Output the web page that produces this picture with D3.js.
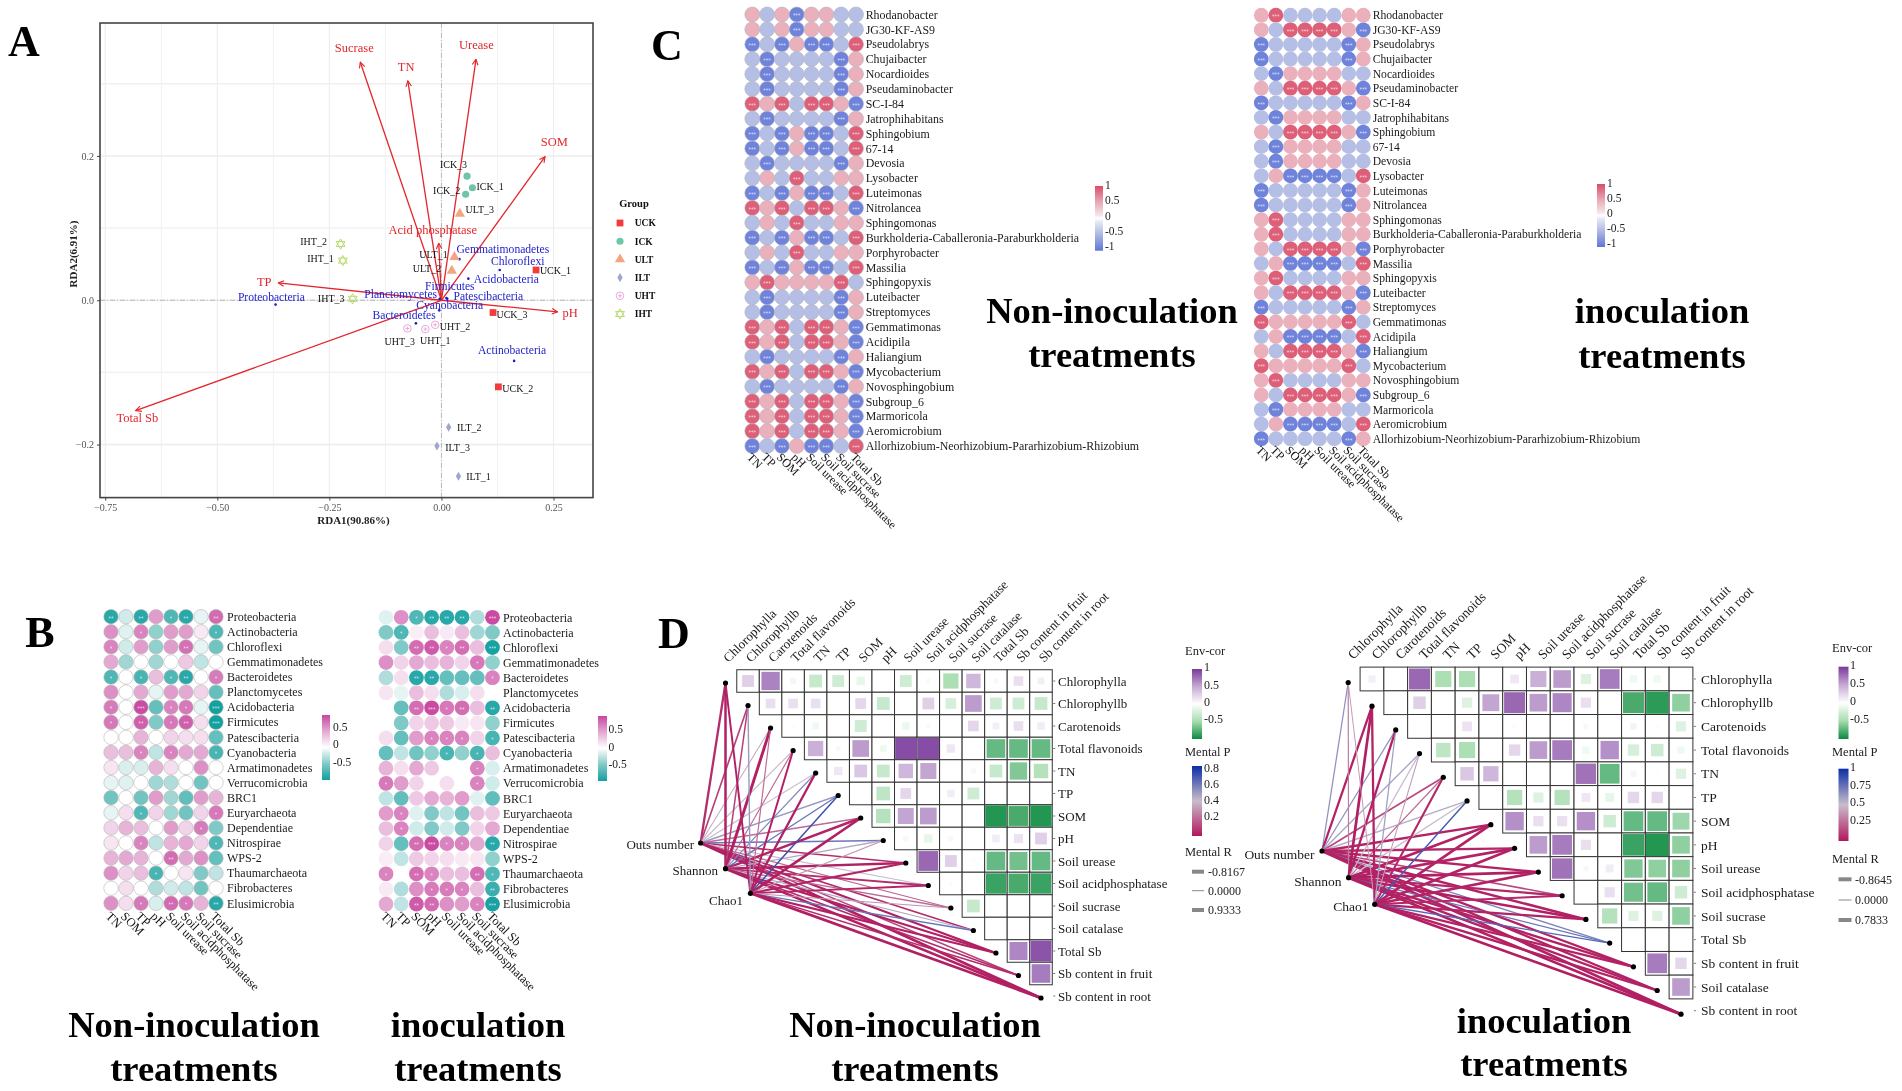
<!DOCTYPE html>
<html>
<head>
<meta charset="utf-8">
<script src="https://cdn.jsdelivr.net/npm/d3@7"></script>
<style>html,body{margin:0;padding:0;background:#fff}svg{display:block;filter:blur(.4px)}text{font-family:'Liberation Serif',serif}</style>
</head>
<body>
<script>
// ---------- Panel A data ----------
const sampleNames = ["UCK_1","UCK_2","UCK_3","ICK_1","ICK_2","ICK_3","ULT_1","ULT_2","ULT_3","ILT_1","ILT_2","ILT_3","UHT_1","UHT_2","UHT_3","IHT_1","IHT_2","IHT_3"];
const sampleRda1 = [.211,.127,.115,.069,.054,.057,.029,.023,.041,.038,.016,-.010,-.036,-.014,-.076,-.220,-.225,-.198];
const sampleRda2 = [.042,-.120,-.017,.156,.147,.172,.060,.041,.120,-.244,-.176,-.202,-.040,-.034,-.039,.055,.078,.002];
const groups = ["UCK","ICK","ULT","ILT","UHT","IHT"];
const envNames = ["Sucrase","TN","Urease","SOM","Acid phosphatase","TP","pH","Total Sb"];
const envRda1 = [-.181,-.075,.077,.231,-.006,-.364,.259,-.682];
const envRda2 = [.330,.304,.334,.199,.079,.024,-.016,-.153];
const phylaNames = ["Proteobacteria","Actinobacteria","Chloroflexi","Gemmatimonadetes","Bacteroidetes","Planctomycetes","Acidobacteria","Firmicutes","Patescibacteria","Cyanobacteria"];
const phylaRda1 = [-.370,.162,.130,.040,-.057,-.004,.060,.011,.013,-.005];
const phylaRda2 = [-.006,-.084,.042,.057,-.032,.002,.030,.003,.002,-.014];

// ---------- Panel B data ----------
const phyla = ["Proteobacteria","Actinobacteria","Chloroflexi","Gemmatimonadetes","Bacteroidetes","Planctomycetes","Acidobacteria","Firmicutes","Patescibacteria","Cyanobacteria","Armatimonadetes","Verrucomicrobia","BRC1","Euryarchaeota","Dependentiae","Nitrospirae","WPS-2","Thaumarchaeota","Fibrobacteres","Elusimicrobia"];
const bColsLeft = ["TN","SOM","TP","pH","Soil urease","Soil acidphosphatase","Soil sucrase","Total Sb"];
const bColsRight = ["TN","TP","SOM","pH","Soil urease","Soil acidphosphatase","Soil sucrase","Total Sb"];
const bLeftValues = [
[-.72,-.15,-.72,.45,-.58,-.72,-.08,.65],
[.5,-.1,.55,-.35,.45,.45,.1,-.58],
[.55,-.15,.45,-.35,.45,.63,-.08,-.45],
[.4,-.3,0,-.3,0,.25,-.2,0],
[-.58,0,-.6,.3,-.58,-.72,0,.58],
[.5,0,.4,-.08,.45,.4,.2,-.5],
[.58,0,.78,-.5,.55,.6,-.08,-.8],
[.6,0,.7,-.4,.6,.7,.15,-.8],
[0,0,.35,0,.2,.15,.15,-.5],
[.3,.3,.55,-.2,.55,.4,.4,-.6],
[.12,-.12,-.12,.35,.15,0,.5,0],
[-.08,-.1,0,-.3,-.25,0,-.45,0],
[-.45,0,-.45,.45,-.3,-.51,.45,.35],
[-.08,.15,-.58,.2,-.3,-.45,.2,.6],
[.2,.35,.3,0,.45,.2,.58,-.4],
[.12,0,.55,-.2,.35,.4,.2,-.58],
[.35,.4,.35,0,.64,.4,.5,-.5],
[.5,.2,.3,-.6,0,.12,-.4,-.2],
[0,.15,0,-.25,-.15,-.2,-.45,0],
[.5,.15,.6,-.12,.66,.6,.35,-.72]];
const bRightValues = [
[-.1,.5,-.58,-.72,-.72,-.72,-.25,.78],
[-.4,-.58,.08,.3,.1,.3,-.3,-.4],
[.15,-.4,.64,.72,.55,.64,.3,-.78],
[.5,.2,.4,.3,.35,.2,.6,-.35],
[-.25,.15,-.72,-.72,-.5,-.5,-.5,.55],
[.12,-.08,.3,.15,-.25,-.12,.15,0],
[0,-.5,.64,.78,.6,.64,.3,-.72],
[0,-.4,.2,.25,.25,.1,.12,-.35],
[.15,-.5,.45,.55,.55,.55,.2,-.6],
[-.5,-.2,-.45,-.35,-.6,-.35,-.6,.3],
[.35,.15,.4,.25,0,0,.55,-.12],
[.6,.45,.2,0,.15,0,.55,-.15],
[-.2,-.51,.25,.4,.35,.45,-.1,-.51],
[.45,.55,-.1,-.4,-.2,-.45,.3,.25],
[.3,.55,-.15,-.4,-.15,-.4,.2,.4],
[.2,-.5,.64,.78,.55,.55,.4,-.72],
[.08,-.2,.25,.2,.15,.1,.12,-.35],
[.55,0,.64,.55,.3,.3,.64,-.58],
[.1,-.25,.5,.58,.58,.55,.3,-.65],
[.4,-.2,.72,.65,.5,.45,.55,-.78]];

// ---------- Panel C data ----------
const genera = ["Rhodanobacter","JG30-KF-AS9","Pseudolabrys","Chujaibacter","Nocardioides","Pseudaminobacter","SC-I-84","Jatrophihabitans","Sphingobium","67-14","Devosia","Lysobacter","Luteimonas","Nitrolancea","Sphingomonas","Burkholderia-Caballeronia-Paraburkholderia","Porphyrobacter","Massilia","Sphingopyxis","Luteibacter","Streptomyces","Gemmatimonas","Acidipila","Haliangium","Mycobacterium","Novosphingobium","Subgroup_6","Marmoricola","Aeromicrobium","Allorhizobium-Neorhizobium-Pararhizobium-Rhizobium"];
const cCols = ["TN","TP","SOM","pH","Soil urease","Soil acidphosphatase","Soil sucrase","Total Sb"];
const cLevels = {R:.9,r:.45,b:-.45,B:-.9};
const cLeftRows = ["rbrBrrbb","rbrBrrbb","BbBrBBbR","bBbbbbBr","bBbbbbBr","bBbbbbBr","RrRbRRrB","bBbbbbBr","BbBrBBbR","BbBrBBbR","bBbbbbBr","brbRbbrr","BbBrBBbR","RrRbRRrB","brbRbbrr","BbBrBBbR","brbRbbrr","BbBrBBbR","rRrrrrRb","bBbbbbBr","bBbbbbBr","RrRbRRrB","RrRbRRrB","bBbbbbBr","RrRbRRrB","bBbbbbBr","RrRbRRrB","RrRbRRrB","RrRbRRrB","BbBrBBbR"];
const cRightRows = ["rRbbbbrr","rbRRRRrB","BbbbbbBr","BbbbbbBr","bBrrrrbb","rbRRRRrB","BbbbbbBr","bBrrrrbb","rbRRRRrB","bBrrrrbb","bBrrrrbb","brBBBBbR","BbbbbbBr","BbbbbbBr","rRbbbbrr","rRbbbbrr","rbRRRRrB","brBBBBbR","rRbbbbrr","rbRRRRrB","BbbbbbBr","RrrrrrRb","brBBBBbR","rbRRRRrB","RrrrrrRb","rRbbbbrr","rbRRRRrB","bBrrrrbb","brBBBBbR","BbbbbbBr"];

// ---------- Panel D data ----------
const dCols = ["Chlorophylla","Chlorophyllb","Carotenoids","Total flavonoids","TN","TP","SOM","pH","Soil urease","Soil acidphosphatase","Soil sucrase","Soil catalase","Total Sb","Sb content in fruit","Sb content in root"];
const dRowsRight = ["Chlorophylla","Chlorophyllb","Carotenoids","Total flavonoids","TN","TP","SOM","pH","Soil urease","Soil acidphosphatase","Soil sucrase","Total Sb","Sb content in fruit","Soil catalase","Sb content in root"];
const dLeftCor = [
[.3,.72,-.08,-.35,-.3,-.15,0,-.3,-.05,-.5,.45,.05,.2,.1],
[.2,.2,.2,0,.25,-.35,-.02,.3,-.25,.6,-.3,-.3,-.35],
[-.03,-.1,-.01,-.3,-.005,-.12,-.05,-.02,.25,.1,.2,.12],
[.5,.05,.6,-.1,.98,.98,.15,0,-.75,-.75,-.75],
[.15,.35,-.35,.45,.55,0,.05,-.35,-.65,-.45],
[.01,-.4,.25,0,.12,-.3,0,0,-.02],
[-.45,.55,.6,0,0,-.98,-.85,-.98],
[-.07,-.15,.05,0,.12,.18,.3],
[.85,.3,-.03,-.75,-.7,-.75],
[.03,.005,-.9,-.85,-.9],
[-.35,0,-.01,-.005],
[0,0,0],
[.7,.95],
[.75]];
const dRightCor = [
[.1,0,.85,-.5,-.5,-.01,.15,.5,.6,-.2,.75,-.1,-.1,-.005],
[-.005,.3,-.01,-.2,.55,.85,.6,.7,.2,0,-.85,-.95,-.6],
[.005,0,.18,-.02,-.03,0,-.01,.05,-.01,.08,.02,-.2],
[-.4,-.5,0,.25,.6,.75,-.1,.65,-.25,-.3,-.1],
[.35,.45,0,0,-.02,.8,-.75,-.08,-.02,-.2],
[-.005,-.45,-.2,-.45,.15,-.15,.25,.25,0],
[.65,.2,.2,.65,-.3,-.75,-.75,-.55],
[.6,.75,.2,0,-.9,-.98,-.6],
[.8,.05,.12,-.65,-.6,-.6],
[0,.2,-.7,-.75,-.3],
[-.45,-.2,-.2,-.6],
[-.005,0,0],
[.75,.25],
[.6]];
const mantelEnv = ["Outs number","Shannon","Chao1"];
const leftMantelP = [
[.05,.1,.35,.4,.4,.5,.2,.6,.05,.4,.2,.05,.02,.1,.02],
[.02,.1,.02,.2,.55,.6,.03,.45,.02,.05,.2,.45,.02,.05,.02],
[.02,.5,.2,.02,.02,.7,.02,.3,.03,.03,.3,.6,.02,.05,.02]];
const leftMantelR = [
[.7,.5,.2,.3,.3,.4,.5,.45,.5,.3,.35,.5,.7,.45,.8],
[.75,.45,.85,.3,.3,.4,.75,.35,.7,.55,.35,.35,.65,.5,.8],
[.6,.4,.3,.6,.7,.45,.8,.3,.65,.6,.3,.4,.7,.5,.8]];
const rightMantelP = [
[.65,.03,.65,.6,.15,.55,.03,.05,.03,.15,.03,.7,.03,.03,.03],
[.3,.02,.03,.5,.25,.5,.03,.03,.02,.05,.02,.75,.03,.03,.02],
[.4,.03,.6,.4,.05,.85,.03,.03,.03,.05,.03,.8,.03,.03,.02]];
const rightMantelR = [
[.35,.7,.35,.35,.5,.4,.7,.7,.7,.5,.75,.35,.7,.7,.8],
[.3,.8,.7,.35,.3,.4,.8,.8,.8,.7,.75,.35,.7,.7,.8],
[.2,.7,.35,.25,.65,.4,.8,.8,.8,.6,.7,.4,.7,.7,.8]];

// ---------- drawing ----------
const W = 1902, H = 1091;
const svg = d3.select("body").append("svg").attr("width", W).attr("height", H).attr("viewBox", `0 0 ${W} ${H}`);
svg.append("rect").attr("width", W).attr("height", H).attr("fill", "#fff");
const defs = svg.append("defs");
let gradId = 0;

function label(g, x, y, s, o = {}) {
  return g.append("text").attr("x", x).attr("y", y).attr("dy", ".35em").text(s)
    .attr("font-size", o.size || 12).attr("fill", o.fill || "#111")
    .attr("font-weight", o.bold ? "bold" : "normal")
    .attr("text-anchor", o.anchor || "start");
}

// Big titles and panel letters
const titleSpots = [
  [194,1024,1068,"Non-inoculation"],[478,1024,1068,"inoculation"],
  [1112,310,354,"Non-inoculation"],[1662,310,355,"inoculation"],
  [915,1024,1068,"Non-inoculation"],[1544,1020,1063,"inoculation"]];
titleSpots.forEach(([x,y1,y2,s]) => {
  label(svg,x,y1,s,{size:36.5,bold:true,anchor:"middle",fill:"#000"});
  label(svg,x,y2,"treatments",{size:36.5,bold:true,anchor:"middle",fill:"#000"});
});
[["A",24,41],["C",667,45],["B",40,632],["D",674,633]].forEach(([s,x,y]) =>
  label(svg,x,y,s,{size:44,bold:true,anchor:"middle",fill:"#000"}));

// ---------- Panel A ----------
(function panelA() {
  const g = svg.append("g");
  const left = 100, right = 593, top = 23, bottom = 497.6;
  const x = d3.scaleLinear().domain([-.7616,.338]).range([left,right]);
  const y = d3.scaleLinear().domain([-.2735,.3843]).range([bottom,top]);
  const xMinor = d3.range(-.625,.3,.25), yMinor = [-.1,.1,.3];
  const xMajor = [-.75,-.5,-.25,0,.25], yMajor = [-.2,0,.2];
  xMinor.forEach(v => g.append("line").attr("x1",x(v)).attr("x2",x(v)).attr("y1",top).attr("y2",bottom).attr("stroke","#f2f2f2"));
  yMinor.forEach(v => g.append("line").attr("y1",y(v)).attr("y2",y(v)).attr("x1",left).attr("x2",right).attr("stroke","#f0f0f0").attr("stroke-width",1.4));
  xMajor.forEach(v => g.append("line").attr("x1",x(v)).attr("x2",x(v)).attr("y1",top).attr("y2",bottom).attr("stroke","#ececec"));
  yMajor.forEach(v => g.append("line").attr("y1",y(v)).attr("y2",y(v)).attr("x1",left).attr("x2",right).attr("stroke","#ececec").attr("stroke-width",1.4));
  g.append("line").attr("x1",x(0)).attr("x2",x(0)).attr("y1",top).attr("y2",bottom).attr("stroke","#b8b8b8").attr("stroke-dasharray","5 2 1 2");
  g.append("line").attr("y1",y(0)).attr("y2",y(0)).attr("x1",left).attr("x2",right).attr("stroke","#b8b8b8").attr("stroke-dasharray","5 2 1 2");
  g.append("rect").attr("x",left).attr("y",top).attr("width",right-left).attr("height",bottom-top).attr("fill","none").attr("stroke","#444").attr("stroke-width",1.6);
  const ax = g.append("g").attr("transform",`translate(0,${bottom})`).call(d3.axisBottom(x).tickValues(xMajor).tickFormat(d3.format(".2f")).tickSize(3));
  const ay = g.append("g").attr("transform",`translate(${left},0)`).call(d3.axisLeft(y).tickValues(yMajor).tickFormat(d3.format(".1f")).tickSize(3));
  [ax,ay].forEach(a => { a.select(".domain").remove(); a.selectAll("text").attr("font-size",10).attr("fill","#555").style("font-family","'Liberation Serif',serif"); a.selectAll("line").attr("stroke","#444"); });
  label(g,353.5,520,"RDA1(90.86%)",{size:11,bold:true,anchor:"middle",fill:"#222"});
  label(g,0,0,"RDA2(6.91%)",{size:11,bold:true,anchor:"middle",fill:"#222"}).attr("transform","translate(73.6,254) rotate(-90)");

  defs.append("marker").attr("id","arr").attr("viewBox","0 0 10 10").attr("refX",9).attr("refY",5).attr("markerWidth",7).attr("markerHeight",7).attr("markerUnits","userSpaceOnUse").attr("orient","auto")
    .append("path").attr("d","M1 1L9 5L1 9").attr("fill","none").attr("stroke","#e3262b").attr("stroke-width",1.6);
  envNames.forEach((n,i) => g.append("line").attr("x1",x(0)).attr("y1",y(0)).attr("x2",x(envRda1[i])).attr("y2",y(envRda2[i])).attr("stroke","#e3262b").attr("stroke-width",1.3).attr("marker-end","url(#arr)"));

  const envOff = [[-6,-14.5],[-1.7,-14.8],[.4,-15],[9.3,-14.8],[-6,-14],[-14,-1.4],[12.6,1],[1.7,7]];
  envNames.forEach((n,i) => label(g,x(envRda1[i])+envOff[i][0],y(envRda2[i])+envOff[i][1],n,{size:12.5,anchor:"middle",fill:"#e3262b"}));

  const phylaOff = [[-4.2,-8],[-2,-11],[18,-9],[43.4,-10.3],[-11.8,-8],[-39,-4.5],[38,0],[3.4,-11.7],[41,-2.4],[10.5,-5.9]];
  phylaNames.forEach((n,i) => {
    g.append("circle").attr("cx",x(phylaRda1[i])).attr("cy",y(phylaRda2[i])).attr("r",1.3).attr("fill","#1a1ad0");
    label(g,x(phylaRda1[i])+phylaOff[i][0],y(phylaRda2[i])+phylaOff[i][1],n,{size:11.6,anchor:"middle",fill:"#2323cc"});
  });

  const symColor = {UCK:"#f23c3c",ICK:"#6fc5a6",ULT:"#f4a480",ILT:"#9da6cf",UHT:"#e9a8dc",IHT:"#b9dc70"};
  function mark(sel, grp) {
    const c = symColor[grp];
    const sym = {UCK:d3.symbolSquare,ICK:d3.symbolCircle,ULT:d3.symbolTriangle,ILT:d3.symbolDiamond}[grp];
    if (sym) {
      const size = {UCK:46,ICK:40,ULT:46,ILT:24}[grp];
      sel.append("path").attr("d",d3.symbol().type(sym).size(size)()).attr("fill",c);
    } else if (grp === "UHT") {
      sel.append("circle").attr("r",3.8).attr("fill","none").attr("stroke",c);
      sel.append("path").attr("d","M-2 0H2M0 -2V2").attr("stroke",c);
    } else {
      const t = d3.symbol().type(d3.symbolTriangle).size(34)();
      sel.append("path").attr("d",t).attr("fill","none").attr("stroke",c);
      sel.append("path").attr("d",t).attr("fill","none").attr("stroke",c).attr("transform","rotate(180)");
    }
  }
  const sampleOff = [[19.4,.3],[19.4,2],[19,2.4],[17.7,-1.4],[-19,-3.8],[-13.5,-12],[-21,-2.4],[-24.8,-1.7],[20,-4],[20,0],[20.6,.7],[20.6,1],[10,11.4],[19.8,2],[-7.6,12.7],[-22.3,-1.7],[-27,-2],[-21.5,-.7]];
  sampleNames.forEach((n,i) => {
    const px = x(sampleRda1[i]), py = y(sampleRda2[i]);
    mark(g.append("g").attr("transform",`translate(${px},${py})`), n.slice(0,3));
    label(g,px+sampleOff[i][0],py+sampleOff[i][1],n,{size:10,anchor:"middle",fill:"#111"});
  });
  const legendY = d3.scalePoint().domain(groups).range([223,314]);
  label(g,634,203,"Group",{size:10.5,bold:true,anchor:"middle",fill:"#111"});
  groups.forEach(gr => {
    mark(g.append("g").attr("transform",`translate(620,${legendY(gr)})`), gr);
    label(g,634.7,legendY(gr),gr,{size:9.5,bold:true,fill:"#111"});
  });
})();

// ---------- colour bar ----------
function colorBar(g, o) {
  const id = "grad" + (gradId++);
  const lg = defs.append("linearGradient").attr("id",id).attr("x1",0).attr("x2",0).attr("y1",1).attr("y2",0);
  const [a,b] = [d3.min(o.scale.domain()),d3.max(o.scale.domain())];
  d3.range(0,1.001,.05).forEach(t => lg.append("stop").attr("offset",t).attr("stop-color",o.scale(a+(b-a)*t)));
  g.append("rect").attr("x",o.x).attr("y",o.top).attr("width",o.w).attr("height",o.bottom-o.top).attr("fill",`url(#${id})`);
  const ty = d3.scaleLinear().domain(o.tickDomain).range(o.tickRange);
  o.ticks.forEach(t => label(g,o.labelX,ty(t),String(t),{size:o.size||11.5,fill:"#222"}));
}

// ---------- dot heatmaps (Panels B and C) ----------
function heatmap(o) {
  const g = svg.append("g");
  const x = d3.scalePoint().domain(o.cols.map((c,i)=>i)).range(o.xRange);
  const y = d3.scalePoint().domain(o.rows).range(o.yRange);
  o.rows.forEach((row,ri) => {
    o.cols.forEach((c,ci) => {
      const v = o.values[ri][ci];
      g.append("circle").attr("cx",x(ci)).attr("cy",y(row)).attr("r",o.r)
        .attr("fill",o.color(v)).attr("stroke",o.stroke||"none").attr("stroke-width",.6);
      const st = o.stars(v);
      if (st) g.append("text").attr("x",x(ci)).attr("y",y(row)+o.starDy).attr("text-anchor","middle")
        .attr("font-size",o.starSize).attr("fill","#fff").attr("fill-opacity",.85).style("font-family","'DejaVu Sans',sans-serif").text(st);
    });
    label(g,o.labelX,y(row),row,{size:o.size,fill:"#1a1a1a"});
  });
  o.cols.forEach((c,ci) => {
    g.append("text").attr("transform",`translate(${x(ci)-6},${o.axisY}) rotate(45)`).attr("font-size",o.axisSize||o.size).attr("fill","#111").text(c);
  });
  colorBar(g,o.legend);
}

const cColor = d3.scaleLinear().domain([-1,-.5,-.08,0,.08,.5,1]).range(["#5f76d8","#aeb8e2","#e9ebf6","#ffffff","#f6e6ea","#e8a9b6","#da4c69"]);
const cStars = v => Math.abs(v) >= .8 ? "***" : "";
const decode = rows => rows.map(r => r.split("").map(c => cLevels[c]));

heatmap({cols:cCols,rows:genera,values:decode(cLeftRows),xRange:[752.3,856],yRange:[14.5,446],r:7.5,labelX:865.7,axisY:458,color:cColor,stars:cStars,stroke:"#b3b3c0",starSize:5,starDy:2.8,size:11.9,axisSize:12,
  legend:{x:1095,w:8,top:186,bottom:250.7,scale:cColor,tickDomain:[1,-1],tickRange:[185,246],ticks:[1,.5,0,-.5,-1],labelX:1105,size:11.5}});
heatmap({cols:cCols,rows:genera,values:decode(cRightRows),xRange:[1261.3,1363.3],yRange:[15.2,438.7],r:7.4,labelX:1372.7,axisY:451,color:cColor,stars:cStars,starSize:5,starDy:2.8,size:11.65,axisSize:12,
  legend:{x:1597,w:8,top:184,bottom:247,scale:cColor,tickDomain:[1,-1],tickRange:[182.5,242.8],ticks:[1,.5,0,-.5,-1],labelX:1607,size:11.5}});

const bColor = d3.scaleLinear().domain([-.8,-.4,0,.4,.8]).range(["#12a0a0","#80c9c6","#ffffff","#e3a9d2","#c9469f"]);
const bStars = v => { const a = Math.abs(v); return a >= .76 ? "***" : a >= .62 ? "**" : a >= .52 ? "*" : ""; };
heatmap({cols:bColsLeft,rows:phyla,values:bLeftValues,xRange:[111,216],yRange:[616.7,903.3],r:7.2,labelX:227,axisY:917,color:bColor,stars:bStars,stroke:"#b5b5b5",starSize:5,starDy:2.8,size:12,axisSize:12.5,
  legend:{x:322,w:8,top:715,bottom:780,scale:bColor,tickDomain:[.5,-.5],tickRange:[726.7,761.7],ticks:[.5,0,-.5],labelX:333,size:11.5}});
heatmap({cols:bColsRight,rows:phyla,values:bRightValues,xRange:[386,492.5],yRange:[617.3,904],r:7.4,labelX:503,axisY:917,color:bColor,stars:bStars,starSize:5,starDy:2.8,size:12,axisSize:12.5,
  legend:{x:598,w:9,top:716,bottom:781,scale:bColor,tickDomain:[.5,-.5],tickRange:[729,764],ticks:[.5,0,-.5],labelX:608.5,size:11.5}});

// ---------- Panel D ----------
const dColor = d3.scaleLinear().domain([-1,-.5,0,.5,1]).range(["#0a8a3e","#a6dcaf","#ffffff","#c5a8d4","#7a3a9c"]);
function corrMantel(o) {
  const g = svg.append("g");
  const x = d3.scalePoint().domain(o.cols).range(o.xRange);
  const y = d3.scalePoint().domain(o.rows).range(o.yRange);
  const xs = i => x(o.cols[i]), ys = i => y(o.rows[i]);
  const cell = xs(1)-xs(0);
  o.rows.forEach((r,i) => {
    label(g,o.labelX,ys(i),r,{size:o.size,fill:"#1a1a1a"});
    g.append("line").attr("x1",xs(14)+cell/2+1).attr("x2",xs(14)+cell/2+3).attr("y1",ys(i)).attr("y2",ys(i)).attr("stroke","#777");
    g.append("text").attr("transform",`translate(${xs(i)+o.colDx},${o.colY}) rotate(-45)`).attr("font-size",o.size).attr("fill","#1a1a1a").text(o.cols[i]);
    (o.cor[i]||[]).forEach((v,k) => {
      const j = i+1+k;
      g.append("rect").attr("x",xs(j)-cell/2).attr("y",ys(i)-cell/2).attr("width",cell).attr("height",cell).attr("fill","#fff").attr("stroke","#333").attr("stroke-width",1);
    });
  });
  o.rows.forEach((r,i) => (o.cor[i]||[]).forEach((v,k) => {
    const j = i+1+k, s = (cell-1)*Math.sqrt(Math.abs(v));
    if (s > .5) g.append("rect").attr("x",xs(j)-s/2).attr("y",ys(i)-s/2).attr("width",s).attr("height",s).attr("fill",dColor(v)).attr("fill-opacity",.92);
  }));
  const pColor = d3.scaleLinear().domain([0,o.pMax*.5,o.pMax]).range(["#b0185e","#c9bccb","#0b2fa5"]);
  o.envPos.forEach((e,ei) => {
    o.rows.forEach((r,i) => {
      g.append("line").attr("x1",e[0]).attr("y1",e[1]).attr("x2",xs(i)).attr("y2",ys(i)+o.nodeDy)
        .attr("stroke",pColor(o.p[ei][i])).attr("stroke-width",.8+2.2*o.r[ei][i]*o.r[ei][i]+.6*o.r[ei][i]);
    });
  });
  o.rows.forEach((r,i) => g.append("circle").attr("cx",xs(i)).attr("cy",ys(i)+o.nodeDy).attr("r",2.6).attr("fill","#000"));
  mantelEnv.forEach((n,ei) => {
    g.append("circle").attr("cx",o.envPos[ei][0]).attr("cy",o.envPos[ei][1]).attr("r",2.6).attr("fill","#000");
    label(g,o.envLabel[ei][0],o.envLabel[ei][1],n,{size:o.size,anchor:"end",fill:"#1a1a1a"});
  });
  const L = o.legend;
  label(g,L.x,L.y1,"Env-cor",{size:12.5,fill:"#222"});
  colorBar(g,{x:L.barX,w:L.barW,top:L.corTop,bottom:L.corBottom,scale:dColor,tickDomain:[1,-.5],tickRange:L.corTicks,ticks:[1,.5,0,-.5],labelX:L.labelX,size:12});
  label(g,L.x,L.y2,"Mental P",{size:12.5,fill:"#222"});
  colorBar(g,{x:L.barX,w:L.barW,top:L.pTop,bottom:L.pBottom,scale:pColor,tickDomain:[L.pTickVals[0],L.pTickVals[L.pTickVals.length-1]],tickRange:L.pTicks,ticks:L.pTickVals,labelX:L.labelX,size:12});
  label(g,L.x,L.y3,"Mental R",{size:12.5,fill:"#222"});
  L.rVals.forEach((t,i) => {
    const yy = L.rY[i];
    g.append("line").attr("x1",L.barX).attr("x2",L.barX+L.rLen).attr("y1",yy).attr("y2",yy).attr("stroke","#888").attr("stroke-width",i===1?1:4);
    label(g,L.rLabelX,yy,t,{size:12,fill:"#222"});
  });
}
corrMantel({cols:dCols,rows:dCols,xRange:[725.5,1041],yRange:[681,996],labelX:1058,size:13,colDx:3,colY:663,cor:dLeftCor,nodeDy:2,pMax:.8,p:leftMantelP,r:leftMantelR,
  envPos:[[700.6,843],[725.5,868.7],[750.4,893.3]],envLabel:[[694,844],[718,870],[743,900]],
  legend:{x:1185,y1:651,y2:752,y3:852,barX:1192,barW:10,labelX:1204,corTop:669,corBottom:739,corTicks:[667,719],pTop:766,pBottom:836,pTicks:[768,816],pTickVals:[.8,.6,.4,.2],rVals:["-0.8167","0.0000","0.9333"],rY:[871.7,890.7,910],rLen:12,rLabelX:1208}});
corrMantel({cols:dCols,rows:dRowsRight,xRange:[1348.2,1681],yRange:[679,1010.7],labelX:1701,size:13.5,colDx:5,colY:660,cor:dRightCor,nodeDy:3.5,pMax:1,p:rightMantelP,r:rightMantelR,
  envPos:[[1322,851],[1348.6,877.7],[1374.7,904.3]],envLabel:[[1314.5,854],[1341.4,881],[1368.4,906]],
  legend:{x:1832,y1:648,y2:752,y3:858.7,barX:1838.5,barW:10,labelX:1850,corTop:666.7,corBottom:739,corTicks:[665,718.7],pTop:768.7,pBottom:841,pTicks:[766.7,820],pTickVals:[1,.75,.5,.25],rVals:["-0.8645","0.0000","0.7833"],rY:[879.3,900,920],rLen:13,rLabelX:1855}});
</script>
</body>
</html>
